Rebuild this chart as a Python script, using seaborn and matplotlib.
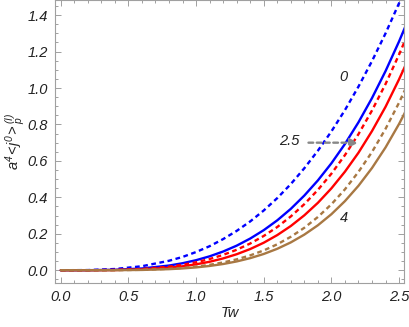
import numpy as np
import pandas as pd
import matplotlib
matplotlib.use("Agg")
import matplotlib.pyplot as plt
import seaborn as sns
from matplotlib.ticker import MultipleLocator

# values
tw = [0.0, 0.2, 0.4, 0.6, 0.8, 0.9, 1.0, 1.1, 1.2, 1.3, 1.4, 1.5, 1.6, 1.7,
      1.8, 1.9, 2.0, 2.1, 2.2, 2.3, 2.4, 2.5, 2.55]
blue_dash = [0.0, 0.0009, 0.0068, 0.022, 0.052, 0.073, 0.100, 0.132, 0.171, 0.216,
             0.268, 0.328, 0.396, 0.473, 0.560, 0.656, 0.762, 0.879, 1.008, 1.148,
             1.300, 1.466, 1.553]
blue_solid = [0.0, 0.0002, 0.0024, 0.0097, 0.0258, 0.0385, 0.0552, 0.0764, 0.1028,
              0.135, 0.174, 0.220, 0.274, 0.337, 0.410, 0.493, 0.587, 0.693, 0.812,
              0.945, 1.093, 1.256, 1.344]
red_dash = [0.0, 0.0001, 0.0016, 0.0070, 0.0196, 0.0299, 0.0437, 0.0616, 0.0843,
            0.1124, 0.1468, 0.1882, 0.2374, 0.2953, 0.3628, 0.4408, 0.530, 0.632,
            0.747, 0.877, 1.022, 1.184, 1.271]
red_solid = [0.0, 0.0001, 0.0010, 0.0047, 0.0140, 0.0218, 0.0325, 0.0466, 0.0649,
             0.0879, 0.1164, 0.1511, 0.193, 0.2428, 0.3016, 0.370, 0.4495, 0.541,
             0.645, 0.764, 0.897, 1.048, 1.129]
brown_dash = [0.0, 0.0, 0.0004, 0.0024, 0.0079, 0.0129, 0.0200, 0.0298, 0.0428,
              0.0598, 0.0816, 0.1088, 0.1425, 0.1836, 0.2331, 0.2923, 0.362, 0.444,
              0.540, 0.649, 0.776, 0.920, 1.000]
brown_solid = [0.0, 0.0, 0.0003, 0.0017, 0.0060, 0.0099, 0.0156, 0.0235, 0.0342,
               0.0483, 0.0664, 0.0893, 0.1178, 0.1529, 0.1956, 0.2468, 0.3076, 0.3794,
               0.4636, 0.5612, 0.674, 0.803, 0.875]

labels = ["0", "2.5", "4"]

sns.set_style("ticks")
plt.rcParams['font.family'] = ['Liberation Sans', 'DejaVu Sans']
plt.rcParams['font.style'] = 'italic'
plt.rcParams['mathtext.fontset'] = 'custom'
plt.rcParams['mathtext.it'] = 'Liberation Sans:italic'
plt.rcParams['mathtext.rm'] = 'Liberation Sans:italic'

fig = plt.figure(figsize=(4.09, 3.27), dpi=100)
ax = fig.add_axes([0.134, 0.134, 0.854, 0.866])

blue = '#0000ff'
red = '#ff0000'
brown = '#a87843'
series = [
    (blue_dash, blue, (2, 1.5)),
    (blue_solid, blue, ''),
    (red_dash, red, (2, 1.5)),
    (red_solid, red, ''),
    (brown_dash, brown, (2, 1.5)),
    (brown_solid, brown, ''),
]
for vals, col, dash in series:
    d = pd.DataFrame({'Tw': tw, 'v': vals})
    sns.lineplot(data=d, x='Tw', y='v', ax=ax, color=col, lw=1.7,
                 linestyle='-' if dash == '' else (0, dash))

ax.set_xlim(-0.044, 2.537)
ax.set_ylim(-0.071, 1.483)

ax.xaxis.set_major_locator(MultipleLocator(0.5))
ax.xaxis.set_minor_locator(MultipleLocator(0.1))
ax.yaxis.set_major_locator(MultipleLocator(0.2))
ax.yaxis.set_minor_locator(MultipleLocator(0.05))
ax.xaxis.set_major_formatter(plt.FormatStrFormatter('%.1f'))
ax.yaxis.set_major_formatter(plt.FormatStrFormatter('%.1f'))

frame = '#a0a0a0'
for s in ax.spines.values():
    s.set_color(frame)
    s.set_linewidth(0.8)
ax.tick_params(which='both', direction='in', top=True, right=True, color=frame,
               labelsize=10.5, labelcolor='#222222', width=0.7)
ax.tick_params(which='major', length=4.5, pad=5)
ax.tick_params(which='minor', length=2.5)
for t in ax.get_xticklabels() + ax.get_yticklabels():
    t.set_fontstyle('italic')

ax.set_xlabel('Tw', fontsize=10.5, color='#222222', labelpad=1)
ax.set_ylabel(r'$a^4\!<\!j^0\!>_p^{(I)}$', fontsize=10.5, color='#222222', va='center')
ax.yaxis.set_label_coords(-0.115, 0.5)

ax.text(2.09, 1.06, labels[0], fontsize=10.5, ha='center', va='center', color='#222222')
ax.text(1.69, 0.71, labels[1], fontsize=10.5, ha='center', va='center', color='#222222')
ax.text(2.09, 0.285, labels[2], fontsize=10.5, ha='center', va='center', color='#222222')
ax.annotate('', xy=(2.22, 0.70), xytext=(1.81, 0.70),
            arrowprops=dict(arrowstyle='-|>', color='#888888', lw=1.7,
                            linestyle=(0, (2, 1.5)), mutation_scale=12))

fig.savefig('out.png', dpi=100)
